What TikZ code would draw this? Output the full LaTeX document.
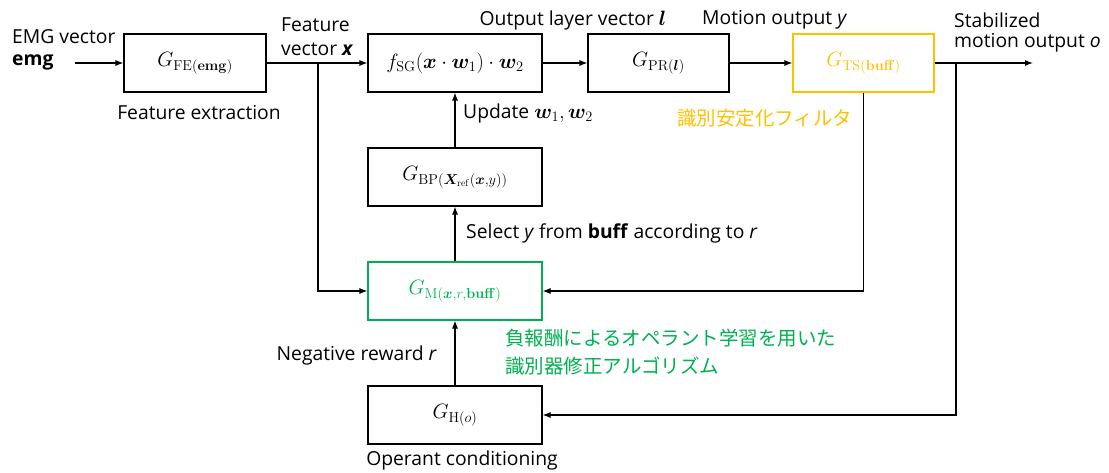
\documentclass[tikz,border=0pt]{standalone}
\usepackage{amsmath,bm}
\usepackage[no-math]{fontspec}
\setmainfont{Open Sans}
\newfontfamily\jpfont{Noto Sans CJK JP}
\usetikzlibrary{arrows.meta}
\definecolor{tsorange}{HTML}{FFC000}
\definecolor{mgreen}{HTML}{00B050}
\begin{document}
\begin{tikzpicture}[x=1pt,y=-1pt,
  blk/.style={draw, line width=1.1pt, minimum height=58pt, inner sep=0pt, font=\fontsize{19.5}{22}\selectfont},
  lbl/.style={inner sep=0pt, font=\fontsize{19.3}{22}\selectfont},
  jp/.style={inner sep=0pt, font=\jpfont\fontsize{19.5}{24}\selectfont},
  arr/.style={-{Latex[length=8pt,width=6pt]}, line width=1.1pt}]
\useasboundingbox (0,0) rectangle (1109,473);
\node[blk, minimum width=142pt] (fe) at (195,63) {$G_{\mathrm{FE}(\mathbf{emg})}$};
\node[blk, minimum width=174pt, font=\fontsize{21}{24}\selectfont] (sg) at (455,63) {$f_{\mathrm{SG}}(\bm{x}\cdot\bm{w}_1)\cdot\bm{w}_2$};
\node[blk, minimum width=141pt] (pr) at (658.5,63) {$G_{\mathrm{PR}(\bm{l})}$};
\node[blk, minimum width=141pt, draw=tsorange, text=tsorange] (ts) at (863.5,63) {$G_{\mathrm{TS}(\mathbf{buff})}$};
\node[blk, minimum width=174pt] (bp) at (455,177) {$G_{\mathrm{BP}(\bm{X}_{\mathrm{ref}}(\bm{x},y))}$};
\node[blk, minimum width=174pt, draw=mgreen, text=mgreen] (m) at (455,291) {$G_{\mathrm{M}(\bm{x},r,\mathbf{buff})}$};
\node[blk, minimum width=174pt] (h) at (455,415) {$G_{\mathrm{H}(o)}$};
\coordinate (in) at (75,63);
\coordinate (out) at (1033,63);
\coordinate (bx) at (318,63);
\coordinate (bo) at (956,63);
\draw[arr] (in) -- (fe);
\draw[arr] (fe) -- (sg);
\draw[arr] (bx) |- (m.west);
\draw[arr] (sg) -- (pr);
\draw[arr] (pr) -- (ts);
\draw[arr] (ts) -- (out);
\draw[arr] (ts.south) |- (m.east);
\draw[arr] (bo) |- (h.east);
\draw[arr] (h) -- (m);
\draw[arr] (m) -- (bp);
\draw[arr] (bp) -- (sg);
\node[lbl, anchor=west] (t1) at (12,37) {EMG vector};
\node[lbl, anchor=west] (t2) at (12,62) {\textbf{emg}};
\node[lbl] (t3) at (199,113) {Feature extraction};
\node[lbl, anchor=west] (t4) at (281,25) {Feature};
\node[lbl, anchor=west] (t5) at (281,49) {vector \textbf{\textit{x}}};
\node[lbl] (t6) at (573,20) {Output layer vector $\bm{l}$};
\node[lbl, anchor=west] (t7) at (702,20) {Motion output \textit{y}};
\node[lbl, anchor=west] (t8) at (954,20) {Stabilized};
\node[lbl, anchor=west] (t9) at (954,43) {motion output \textit{o}};
\node[lbl, anchor=west] (t10) at (463,113) {Update $\bm{w}_1,\bm{w}_2$};
\node[jp, text=tsorange, anchor=west] (t11) at (677,118) {識別安定化フィルタ};
\node[lbl, anchor=west] (t12) at (466,233) {Select \textit{y} from \textbf{buff} according to \textit{r}};
\node[jp, text=mgreen, anchor=west] (t13) at (505,338) {負報酬によるオペラント学習を用いた};
\node[jp, text=mgreen, anchor=west] (t14) at (505,366) {識別器修正アルゴリズム};
\node[lbl, anchor=east] (t15) at (437,355) {Negative reward \textit{r}};
\node[lbl] (t16) at (462,460) {Operant conditioning};
\end{tikzpicture}
\end{document}
